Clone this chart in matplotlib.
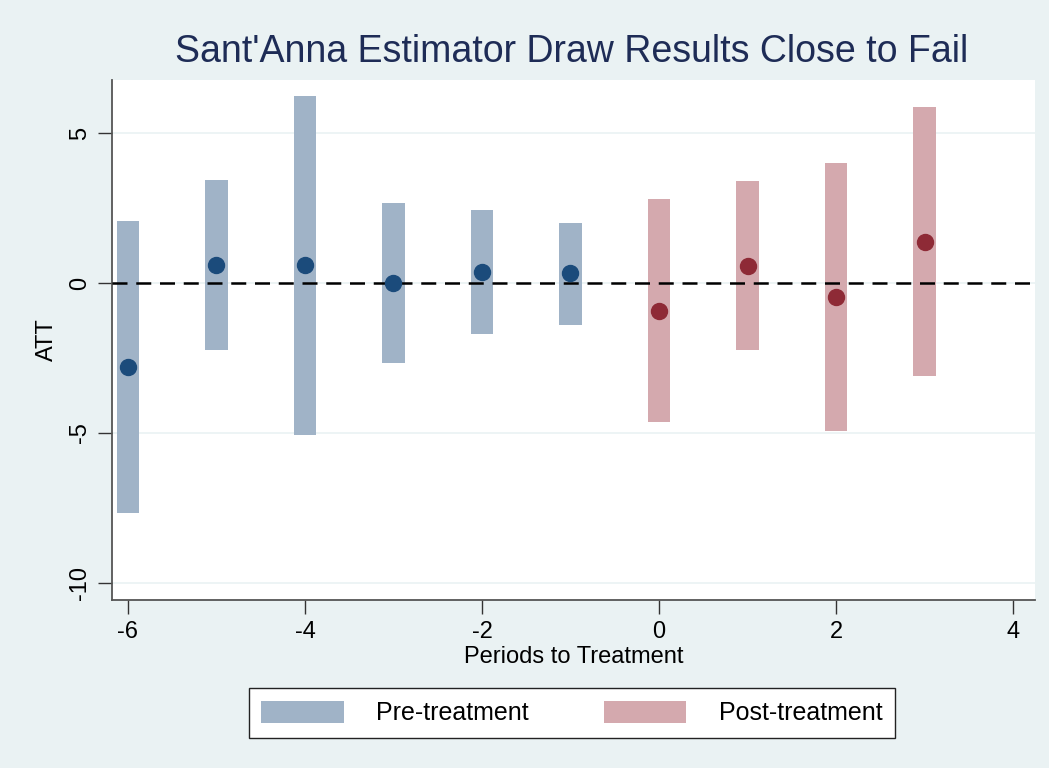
import matplotlib
matplotlib.use("Agg")
import matplotlib.pyplot as plt
from matplotlib.patches import Patch

plt.rcParams['font.family'] = ['Liberation Sans', 'DejaVu Sans']
plt.rcParams['axes.unicode_minus'] = False

# Data
pre_periods = [-6, -5, -4, -3, -2, -1]
pre_att = [-2.8, 0.6, 0.6, 0.0, 0.37, 0.33]
pre_lo = [-7.67, -2.23, -5.07, -2.67, -1.7, -1.4]
pre_hi = [2.07, 3.43, 6.23, 2.67, 2.43, 2.0]

post_periods = [0, 1, 2, 3]
post_att = [-0.93, 0.57, -0.47, 1.37]
post_lo = [-4.63, -2.23, -4.93, -3.1]
post_hi = [2.8, 3.4, 4.0, 5.87]

xticks = [-6, -4, -2, 0, 2, 4]
yticks = [-10, -5, 0, 5]

bg = '#EAF2F3'
pre_bar = '#A0B3C7'
post_bar = '#D4A9AE'
pre_dot = '#1B4B7B'
post_dot = '#8E2A36'

fig = plt.figure(figsize=(10.49, 7.68), dpi=100, facecolor=bg)
ax = fig.add_axes([0.1068, 0.2188, 0.88, 0.677])
ax.set_facecolor('white')

w = 0.25
ax.bar(pre_periods, [h - l for h, l in zip(pre_hi, pre_lo)], bottom=pre_lo,
       width=w, color=pre_bar, zorder=2)
ax.bar(post_periods, [h - l for h, l in zip(post_hi, post_lo)], bottom=post_lo,
       width=w, color=post_bar, zorder=2)
ax.axhline(0, color='black', lw=1.8, dashes=(6, 3.5), zorder=3)
ax.plot(pre_periods, pre_att, 'o', color=pre_dot, ms=11.5, zorder=4)
ax.plot(post_periods, post_att, 'o', color=post_dot, ms=11.5, zorder=4)

ax.set_xlim(-6.18, 4.25)
ax.set_ylim(-10.57, 6.77)
ax.set_xticks(xticks)
ax.set_yticks(yticks)
ax.set_yticklabels([str(t) for t in yticks], rotation=90, va='center')
ax.tick_params(axis='both', labelsize=17, length=10, width=1, color='#333333', pad=5)
ax.yaxis.grid(True, color=bg, lw=1.2, zorder=0)
ax.set_axisbelow(True)
for s in ['top', 'right']:
    ax.spines[s].set_visible(False)
for s in ['left', 'bottom']:
    ax.spines[s].set_color('#555555')
    ax.spines[s].set_linewidth(1.3)

ax.set_xlabel('Periods to Treatment', fontsize=17, labelpad=2)
ax.set_ylabel('ATT', fontsize=17, labelpad=8)
fig.text(0.545, 0.932, "Sant'Anna Estimator Draw Results Close to Fail",
         ha='center', va='center', fontsize=27, color='#1E2C56')

handles = [Patch(facecolor=pre_bar, label='Pre-treatment'),
           Patch(facecolor=post_bar, label='Post-treatment')]
leg = fig.legend(handles=handles, loc='center', bbox_to_anchor=(0.545, 0.0715),
                 ncol=2, fontsize=18, frameon=True, fancybox=False,
                 edgecolor='#222222', handlelength=3.3, handleheight=1.0,
                 columnspacing=3.0, borderpad=0.5, handletextpad=1.3)
leg.get_frame().set_linewidth(1.0)
leg.get_frame().set_facecolor('white')
leg.get_frame().set_alpha(1.0)

fig.savefig('out.png', dpi=100, facecolor=bg)
